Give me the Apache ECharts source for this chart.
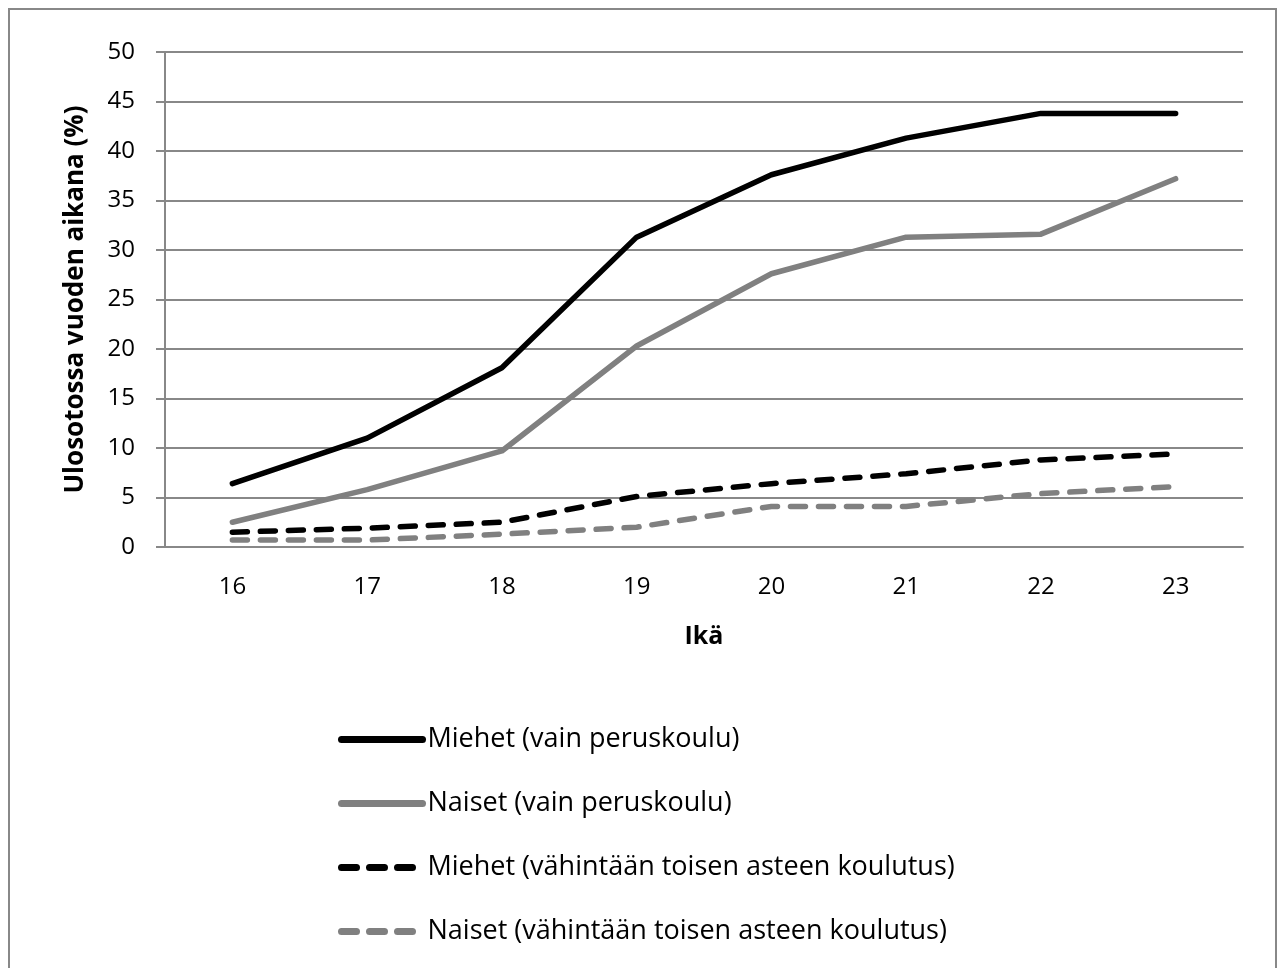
<!DOCTYPE html>
<html>
	<head>
		<meta charset="UTF-8">
		<title>Ulosotossa vuoden aikana</title>
		<style type="text/css">
			html,body{
				margin: 0;
				padding: 0;
				width: 100%;
				height: 100%;
				background: #fff;
			}
			#main{
				width: 1284px;
				height: 968px;
			}
		</style>
	</head>
	<body>
		<div id="main"></div>
		<script src="https://cdn.jsdelivr.net/npm/echarts@6/dist/echarts.min.js"></script>
		<script>
			// ikä
			var ages = ['16', '17', '18', '19', '20', '21', '22', '23'];

			var seriesNames = [
				'Miehet (vain peruskoulu)',
				'Naiset (vain peruskoulu)',
				'Miehet (vähintään toisen asteen koulutus)',
				'Naiset (vähintään toisen asteen koulutus)'
			];

			var miehetPerus = [6.4, 11.0, 18.1, 31.3, 37.6, 41.3, 43.8, 43.8];
			var naisetPerus = [2.5, 5.8, 9.7, 20.3, 27.6, 31.3, 31.6, 37.2];
			var miehetToinen = [1.5, 1.9, 2.5, 5.1, 6.4, 7.4, 8.8, 9.4];
			var naisetToinen = [0.7, 0.7, 1.3, 2.0, 4.1, 4.1, 5.4, 6.1];

			var font = 'Open Sans';
			var gray = '#808080';

			function lineSeries(name, data, color, dashed){
				return {
					name: name,
					type: 'line',
					data: data,
					symbol: 'none',
					animation: false,
					lineStyle: {
						color: color,
						width: 5.5,
						type: dashed ? [15, 13] : 'solid',
						cap: 'round',
						join: 'round'
					},
					itemStyle: {color: color}
				};
			}

			var myChart = echarts.init(document.getElementById('main'));

			myChart.setOption({
				backgroundColor: '#fff',
				textStyle: {fontFamily: font, color: '#000'},
				graphic: [{
					type: 'rect',
					shape: {x: 9, y: 9, width: 1267, height: 990},
					style: {fill: 'none', stroke: '#888', lineWidth: 2}
				}],
				grid: {
					left: 165,
					right: 41,
					top: 52,
					bottom: 421
				},
				legend: {
					orient: 'vertical',
					left: 333,
					top: 721,
					itemWidth: 81,
					itemHeight: 28,
					itemGap: 37,
					itemStyle: {color: 'transparent', opacity: 0, borderWidth: 0},
					lineStyle: {width: 7},
					textStyle: {fontFamily: font, fontSize: 27, color: '#000'},
					data: seriesNames
				},
				xAxis: {
					type: 'category',
					data: ages,
					boundaryGap: true,
					name: 'Ikä',
					nameLocation: 'middle',
					nameGap: 77,
					nameTextStyle: {fontFamily: font, fontSize: 25, fontWeight: 'bold', color: '#000'},
					axisLine: {lineStyle: {color: '#888', width: 2}},
					axisTick: {show: false},
					axisLabel: {fontFamily: font, fontSize: 24, color: '#000', margin: 28}
				},
				yAxis: {
					type: 'value',
					min: 0,
					max: 50,
					interval: 5,
					name: 'Ulosotossa vuoden aikana (%)',
					nameLocation: 'middle',
					nameGap: 76,
					nameTextStyle: {fontFamily: font, fontSize: 26, fontWeight: 'bold', color: '#000'},
					axisLine: {show: true, lineStyle: {color: '#888', width: 2}},
					axisTick: {show: true, length: 9, lineStyle: {color: '#888', width: 2}},
					axisLabel: {fontFamily: font, fontSize: 24, color: '#000', margin: 30},
					splitLine: {lineStyle: {color: '#888', width: 2}}
				},
				series: [
					lineSeries(seriesNames[0], miehetPerus, '#000', false),
					lineSeries(seriesNames[1], naisetPerus, gray, false),
					lineSeries(seriesNames[2], miehetToinen, '#000', true),
					lineSeries(seriesNames[3], naisetToinen, gray, true)
				]
			});
		</script>
	</body>
</html>
